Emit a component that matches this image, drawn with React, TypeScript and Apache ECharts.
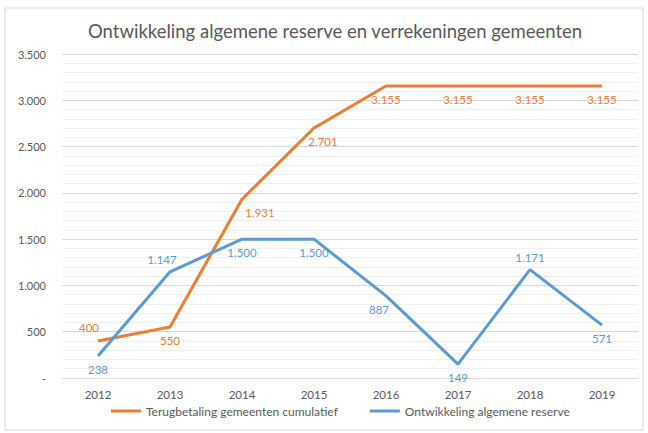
import React, { useEffect, useRef } from "react";
import * as echarts from "echarts";

const years = ["2012", "2013", "2014", "2015", "2016", "2017", "2018", "2019"];
const terugbetaling = [400, 550, 1931, 2701, 3155, 3155, 3155, 3155];
const reserve = [238, 1147, 1500, 1500, 887, 149, 1171, 571];
const seriesNames = ["Terugbetaling gemeenten cumulatief", "Ontwikkeling algemene reserve"];
const title = "Ontwikkeling algemene reserve en verrekeningen gemeenten";

const fmt = (v: number) => (v === 0 ? "-" : String(Math.round(v)).replace(/\B(?=(\d{3})+(?!\d))/g, "."));

// label placements per point (position, offset)
const orangeLabelPos: any[] = [
  ["top", [-9, -2]], ["bottom", [0, 2]], ["bottom", [18, 2]], ["bottom", [9, 2]],
  ["bottom", [0, 2]], ["bottom", [0, 2]], ["bottom", [0, 2]], ["bottom", [0, 2]],
];
const blueLabelPos: any[] = [
  ["bottom", [0, 2]], ["top", [-8, -1]], ["bottom", [0, 2]], ["bottom", [0, 2]],
  ["bottom", [-7, 2]], ["bottom", [0, 2]], ["top", [0, -1]], ["bottom", [0, 2]],
];

export default function App() {
  const ref = useRef<HTMLDivElement>(null);
  useEffect(() => {
    if (!ref.current) return;
    const chart = echarts.init(ref.current, undefined, { renderer: "svg" });
    const font = "Lato, 'Open Sans', sans-serif";
    const mk = (vals: number[], pos: any[]) =>
      vals.map((v, i) => ({
        value: v,
        label: { position: pos[i][0], offset: pos[i][1] },
      }));
    const lineSeries = (name: string, vals: number[], pos: any[], color: string) => ({
      name,
      type: "line",
      data: mk(vals, pos),
      showSymbol: true,
      symbol: "circle",
      symbolSize: 0.5,
      lineStyle: { color, width: 3 },
      itemStyle: { color },
      label: {
        show: true,
        color,
        fontSize: 11.5,
        fontFamily: font,
        formatter: (p: any) => fmt(p.value),
      },
    });
    chart.setOption({
      animation: false,
      textStyle: { fontFamily: font },
      title: {
        text: title,
        left: 83,
        top: 16,
        textStyle: { fontFamily: font, fontSize: 18.5, fontWeight: "normal", color: "#595959" },
      },
      graphic: [
        {
          type: "rect",
          shape: { x: 5, y: 8, width: 638, height: 422 },
          style: { fill: "none", stroke: "#D9D9D9", lineWidth: 1 },
          silent: true,
        },
      ],
      legend: {
        bottom: 11,
        left: 106,
        itemGap: 32,
        itemWidth: 30,
        itemHeight: 3,
        icon: "rect",
        textStyle: { fontFamily: font, fontSize: 12, color: "#595959" },
        data: seriesNames,
      },
      grid: { left: 62, right: 10, top: 54, bottom: 55, containLabel: false },
      xAxis: {
        type: "category",
        data: years,
        boundaryGap: true,
        axisLine: { lineStyle: { color: "#D9D9D9" } },
        axisTick: { show: false },
        axisLabel: { color: "#595959", fontSize: 11.5, fontFamily: font, margin: 10 },
      },
      yAxis: {
        type: "value",
        min: 0,
        max: 3500,
        interval: 500,
        axisLine: { show: false },
        axisTick: { show: false },
        axisLabel: { color: "#595959", fontSize: 11, fontFamily: font, formatter: fmt, margin: 16 },
        splitLine: { lineStyle: { color: "#D9D9D9", width: 1 } },
        minorTick: { show: false, splitNumber: 5 },
        minorSplitLine: { show: true, lineStyle: { color: "#F0F0F0", width: 1 } },
      },
      series: [
        lineSeries(seriesNames[0], terugbetaling, orangeLabelPos, "#ED7D31"),
        lineSeries(seriesNames[1], reserve, blueLabelPos, "#5B9BD5"),
      ],
    });
    return () => chart.dispose();
  }, []);
  return (
    <div
      ref={ref}
      style={{ position: "absolute", left: 0, top: 0, width: 648, height: 433, background: "#fff" }}
    />
  );
}
